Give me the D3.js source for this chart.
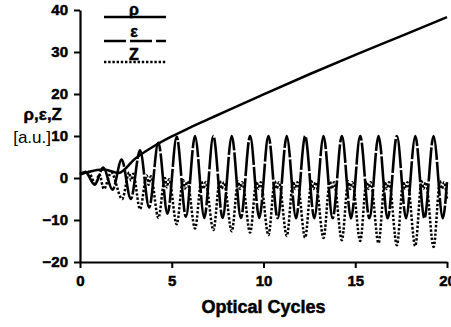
<!DOCTYPE html>
<html>
<head>
<meta charset="utf-8">
<script src="https://cdn.jsdelivr.net/npm/d3@7"></script>
<style>
  body { margin: 0; background: #fff; }
  svg { display: block; }
  text { font-family: "Liberation Sans", Arial, sans-serif; }
</style>
</head>
<body>
<div class="chart"></div>
<script>
// values: [optical cycle, value]
const rhoPoints = [
  [0, 0.8], [0.5, 1.5], [1.3, 2.0], [2.1, 1.2], [3.0, 4.6], [4.0, 7.5],
  [5.0, 9.9], [6.0, 12.0], [7.0, 14.0], [8.0, 16.0], [10, 19.9],
  [12.5, 24.7], [15, 29.3], [17.5, 33.8], [20, 38.3]
];

const epsPoints = [
  [0, 0.9], [0.3, 1.4], [0.8, -1.6], [1.27, 2.5], [1.77, -2.8],
  [2.27, 4.4], [2.77, -5.0], [3.27, 6.6], [3.77, -7.0], [4.27, 8.4],
  [4.77, -8.5], [5.27, 9.8], [5.77, -9.2], [6.27, 10], [6.77, -9.5],
  [7.27, 10], [7.77, -9.5], [8.27, 10], [8.77, -9.5], [9.27, 10],
  [9.77, -9.5], [10.27, 10], [10.77, -9.6], [11.27, 10], [11.77, -9.6],
  [12.27, 10], [12.77, -9.6], [13.27, 10], [13.77, -9.6], [14.27, 10],
  [14.77, -9.6], [15.27, 10], [15.77, -9.6], [16.27, 10], [16.77, -9.6],
  [17.27, 10], [17.77, -9.6], [18.27, 10], [18.77, -9.6], [19.27, 10],
  [19.77, -9.6], [20, -1.0]
];

const zPoints = [
  [0, 1.0], [0.45, 1.5], [0.85, -1.4], [1.05, 0.9], [1.3, -2.6],
  [1.7, 1.3], [2.3, -5.0], [2.68, 1.3], [2.78, -0.6], [2.9, 1.0],
  [3.27, -7.4], [3.64, 0.6], [3.74, -1.6], [3.86, 0.4],
  [4.27, -9.5], [4.63, 0.0], [4.73, -2.2], [4.85, -0.3],
  [5.27, -11.0], [5.62, -0.5], [5.72, -2.5], [5.84, -0.8],
  [6.27, -12.0], [6.62, -0.7], [6.72, -2.6], [6.84, -1.0],
  [7.27, -12.4], [7.62, -0.7], [7.72, -2.6], [7.84, -1.0],
  [8.27, -12.7], [8.62, -0.8], [8.72, -2.6], [8.84, -1.0],
  [9.27, -13.0], [9.62, -0.8], [9.72, -2.6], [9.84, -1.0],
  [10.27, -13.6], [10.62, -0.8], [10.72, -2.6], [10.84, -1.0],
  [11.27, -13.8], [11.62, -0.8], [11.72, -2.6], [11.84, -1.0],
  [12.27, -14.2], [12.62, -0.8], [12.72, -2.6], [12.84, -1.0],
  [13.27, -14.3], [13.62, -0.8], [13.72, -2.6], [13.84, -1.0],
  [14.27, -14.8], [14.62, -0.8], [14.72, -2.6], [14.84, -1.0],
  [15.27, -15.0], [15.62, -0.8], [15.72, -2.6], [15.84, -1.0],
  [16.27, -15.5], [16.62, -0.8], [16.72, -2.6], [16.84, -1.0],
  [17.27, -16.0], [17.62, -0.8], [17.72, -2.6], [17.84, -1.0],
  [18.27, -16.2], [18.62, -0.8], [18.72, -2.6], [18.84, -1.0],
  [19.27, -16.4], [19.62, -0.8], [19.72, -2.6], [19.84, -1.0],
  [20, -5.0]
];

const xTicks = [0, 5, 10, 15, 20];
const yTicks = [-20, -10, 0, 10, 20, 30, 40];
const legendLabels = ["ρ", "ε", "Z"];

const svgWidth = 451;
const svgHeight = 327;

const chartMargin = { top: 10, right: 4, bottom: 65, left: 80 };

const width = svgWidth - chartMargin.left - chartMargin.right;
const height = svgHeight - chartMargin.top - chartMargin.bottom;

const svg = d3.select(".chart")
  .append("svg")
  .attr("width", svgWidth)
  .attr("height", svgHeight);

const chartGroup = svg.append("g")
  .attr("transform", `translate(${chartMargin.left}, ${chartMargin.top})`);

// scales
const xScale = d3.scaleLinear().domain([0, 20]).range([0, width]);
const yScale = d3.scaleLinear().domain([-20, 40]).range([height, 0]);

// axes
const yAxis = d3.axisLeft(yScale)
  .tickValues(yTicks)
  .tickSize(6)
  .tickSizeOuter(0)
  .tickPadding(6);

const xAxis = d3.axisBottom(xScale)
  .tickValues(xTicks)
  .tickSize(6)
  .tickSizeOuter(0)
  .tickPadding(7);

const yG = chartGroup.append("g").call(yAxis);
const xG = chartGroup.append("g")
  .attr("transform", `translate(0, ${height})`)
  .call(xAxis);

// scanned print looks heavy: thicken the bold text a little
[yG, xG].forEach(g => {
  g.select(".domain").attr("stroke", "#000").attr("stroke-width", 2.2);
  g.selectAll(".tick line").attr("stroke", "#000").attr("stroke-width", 2);
  g.selectAll(".tick text")
    .attr("fill", "#000")
    .attr("stroke", "#000")
    .attr("stroke-width", 0.5)
    .attr("font-family", "'Liberation Sans', Arial, sans-serif")
    .attr("font-size", "15px")
    .attr("font-weight", "bold");
});

// curves
const line = d3.line()
  .x(d => xScale(d[0]))
  .y(d => yScale(d[1]))
  .curve(d3.curveMonotoneX);

const styles = [
  { data: zPoints, dash: "2.4,1.8", w: 2.5 },
  { data: epsPoints, dash: "34,2", w: 2.6 },
  { data: rhoPoints, dash: null, w: 2.5 }
];

styles.forEach(s => {
  chartGroup.append("path")
    .datum(s.data)
    .attr("fill", "none")
    .attr("stroke", "#000")
    .attr("stroke-width", s.w)
    .attr("stroke-dasharray", s.dash)
    .attr("d", line);
});

// legend
const legendDash = [null, "22,4", "2.4,1.8"];
const legendLineY = [17, 41, 62];
const legendTextY = [15, 37, 60];

legendLabels.forEach((lab, i) => {
  svg.append("line")
    .attr("x1", 104).attr("x2", 166)
    .attr("y1", legendLineY[i]).attr("y2", legendLineY[i])
    .attr("stroke", "#000")
    .attr("stroke-width", 2.3)
    .attr("stroke-dasharray", legendDash[i]);
  svg.append("text")
    .attr("x", 134)
    .attr("y", legendTextY[i])
    .attr("text-anchor", "middle")
    .attr("font-size", "16px")
    .attr("font-weight", "bold")
    .attr("stroke", "#000")
    .attr("stroke-width", 0.5)
    .text(lab);
});

// axis titles
svg.append("text")
  .attr("x", 62)
  .attr("y", 120)
  .attr("text-anchor", "end")
  .attr("font-size", "17px")
  .attr("font-weight", "bold")
  .attr("stroke", "#000")
  .attr("stroke-width", 0.4)
  .text("ρ,ε,Z");

svg.append("text")
  .attr("x", 51)
  .attr("y", 143)
  .attr("text-anchor", "end")
  .attr("font-size", "17px")
  .text("[a.u.]");

svg.append("text")
  .attr("x", chartMargin.left + width / 2)
  .attr("y", 313)
  .attr("text-anchor", "middle")
  .attr("font-size", "18px")
  .attr("font-weight", "bold")
  .attr("stroke", "#000")
  .attr("stroke-width", 0.5)
  .text("Optical Cycles");
</script>
</body>
</html>
